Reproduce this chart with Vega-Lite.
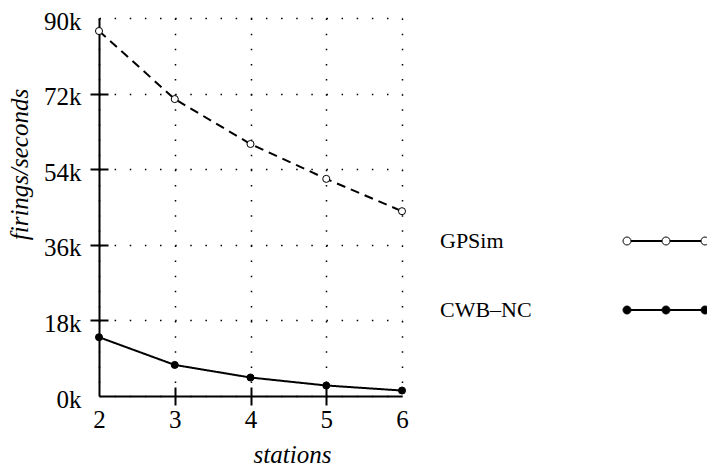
{
  "$schema": "https://vega.github.io/schema/vega-lite/v6.json",
  "width": 303,
  "height": 378,
  "autosize": {"type": "none"},
  "padding": {"left": 99, "top": 18, "right": 305, "bottom": 72},
  "background": "white",
  "config": {"view": {"stroke": null}, "font": "Liberation Serif"},
  "data": {
    "values": [
      {"series": "GPSim", "stations": 2, "rate": 86900},
      {"series": "GPSim", "stations": 3, "rate": 70700},
      {"series": "GPSim", "stations": 4, "rate": 60000},
      {"series": "GPSim", "stations": 5, "rate": 51700},
      {"series": "GPSim", "stations": 6, "rate": 44000},
      {"series": "CWB–NC", "stations": 2, "rate": 14000},
      {"series": "CWB–NC", "stations": 3, "rate": 7400},
      {"series": "CWB–NC", "stations": 4, "rate": 4400},
      {"series": "CWB–NC", "stations": 5, "rate": 2500},
      {"series": "CWB–NC", "stations": 6, "rate": 1300}
    ]
  },
  "resolve": {"axis": {"x": "independent", "y": "independent"}},
  "layer": [
    {
      "mark": {"type": "line", "strokeWidth": 2, "color": "black"},
      "encoding": {
        "x": {
          "field": "stations", "type": "quantitative",
          "scale": {"domain": [2, 6], "nice": false, "zero": false},
          "axis": {
            "orient": "bottom", "values": [2, 3, 4, 5, 6], "zindex": 0,
            "grid": true, "gridColor": "black", "gridDash": [1.5, 13.63], "gridWidth": 1.5, "gridOpacity": 1,
            "domainColor": "black", "domainWidth": 2, "ticks": false,
            "labelFont": "Liberation Serif", "labelFontSize": 25, "labelColor": "black",
            "labelPadding": 31, "labelBaseline": "alphabetic", "labelFlush": false, "labelOverlap": false,
            "title": "stations", "titleFont": "Liberation Serif", "titleFontStyle": "italic", "titleFontWeight": "normal",
            "titleFontSize": 25, "titleColor": "black", "titleX": 193, "titleY": 66, "titleBaseline": "alphabetic", "titleAlign": "center"
          }
        },
        "y": {
          "field": "rate", "type": "quantitative",
          "scale": {"domain": [0, 90000], "nice": false},
          "axis": {
            "orient": "left", "values": [0, 18000, 36000, 54000, 72000, 90000], "zindex": 0,
            "labelExpr": "(datum.value / 1000) + 'k'",
            "grid": true, "gridColor": "black", "gridDash": [1.5, 13.63], "gridWidth": 1.5, "gridOpacity": 1,
            "domainColor": "black", "domainWidth": 2, "ticks": false,
            "labelFont": "Liberation Serif", "labelFontSize": 25, "labelColor": "black",
            "labelPadding": 18, "labelBaseline": "alphabetic", "labelOffset": 11, "labelFlush": false, "labelOverlap": false,
            "title": "firings/seconds", "titleFont": "Liberation Serif", "titleFontStyle": "italic", "titleFontWeight": "normal",
            "titleFontSize": 25, "titleColor": "black", "titleX": -72, "titleY": 146, "titleAngle": 270, "titleBaseline": "alphabetic", "titleAlign": "center"
          }
        },
        "detail": {"field": "series", "type": "nominal"},
        "strokeDash": {"condition": {"test": "datum.series === 'GPSim'", "value": [9, 6]}, "value": [1, 0]}
      }
    },
    {
      "mark": {"type": "point", "filled": true, "stroke": "black", "strokeWidth": 1, "size": 50, "opacity": 1},
      "encoding": {
        "x": {
          "field": "stations", "type": "quantitative",
          "scale": {"domain": [2, 6], "nice": false, "zero": false},
          "axis": {
            "orient": "bottom", "values": [3, 4, 5], "offset": -9, "zindex": 0,
            "grid": false, "domain": false, "labels": false, "title": null,
            "ticks": true, "tickColor": "black", "tickWidth": 2, "tickSize": 18
          }
        },
        "y": {
          "field": "rate", "type": "quantitative",
          "scale": {"domain": [0, 90000], "nice": false},
          "axis": {
            "orient": "left", "values": [18000, 36000, 54000, 72000], "offset": -9, "zindex": 0,
            "grid": false, "domain": false, "labels": false, "title": null,
            "ticks": true, "tickColor": "black", "tickWidth": 2, "tickSize": 18
          }
        },
        "fill": {
          "field": "series", "type": "nominal",
          "scale": {"domain": ["GPSim", "CWB–NC"], "range": ["white", "black"]},
          "legend": {
            "orient": "none", "legendX": 517, "legendY": 212, "title": null,
            "symbolSize": 400, "symbolStrokeColor": "black", "symbolStrokeWidth": 1,
            "symbolType": "M0.4,0A0.4,0.4 0 1,1 -0.4,0A0.4,0.4 0 1,1 0.4,0Z M4.3,0A0.4,0.4 0 1,1 3.5,0A0.4,0.4 0 1,1 4.3,0Z M8.2,0A0.4,0.4 0 1,1 7.4,0A0.4,0.4 0 1,1 8.2,0Z M0.4,-0.05H3.5M0.4,0.05H3.5M4.3,-0.05H7.4M4.3,0.05H7.4",
            "labelFont": "Liberation Serif", "labelFontSize": 22, "labelColor": "black",
            "labelOffset": -198, "labelLimit": 300,
            "rowPadding": 47
          }
        }
      }
    }
  ]
}
